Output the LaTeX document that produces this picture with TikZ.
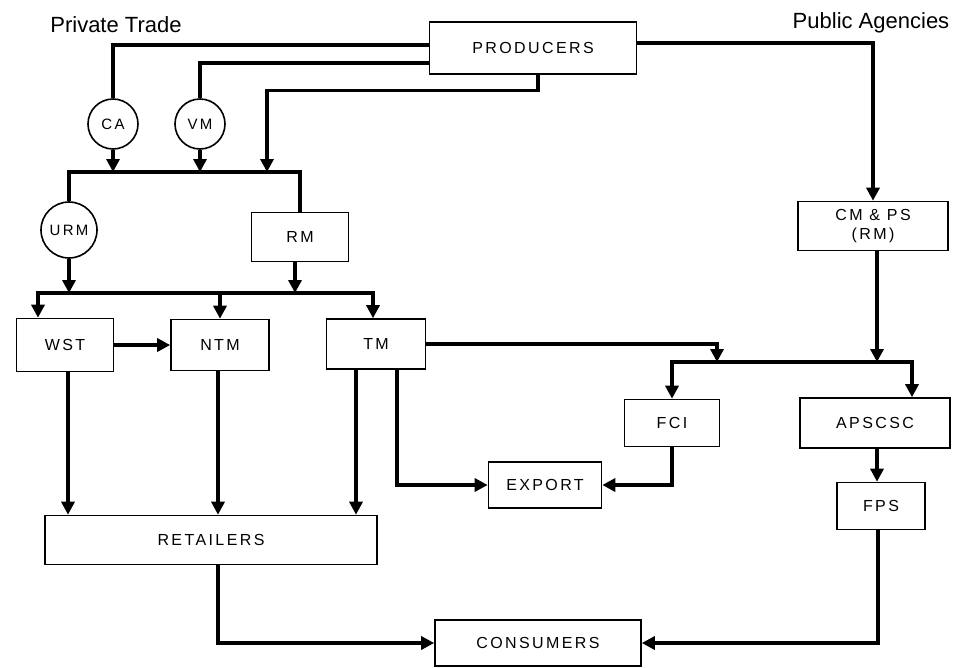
\documentclass[tikz,border=0pt]{standalone}
\usepackage{fontspec}
\setmainfont{Liberation Sans}
\newfontfamily\boxfont[LetterSpace=15]{Liberation Sans}
\usetikzlibrary{arrows.meta}

\begin{document}
\begin{tikzpicture}[x=1pt,y=-1pt,
  caixa/.style={draw,line width=1.6pt,font=\boxfont\fontsize{16}{19}\selectfont,inner sep=0pt,align=center},
  circulo/.style={draw,circle,line width=1.6pt,font=\boxfont\fontsize{15}{18}\selectfont,inner sep=0pt,minimum size=50pt},
  linha/.style={line width=3.3pt},
  fluxo/.style={linha,-{Triangle[length=13pt,width=13pt]}},
  titulo/.style={font=\fontsize{22}{26}\selectfont}]
\useasboundingbox (0,0) rectangle (957,667);
% Titulos
\node[titulo] (priv) at (116,25) {Private Trade};
\node[titulo] (pub) at (871,23) {Public Agencies};
% Caixas
\node[caixa,minimum width=207pt,minimum height=52pt] (prod) at (533,48) {PRODUCERS};
\node[circulo] (ca) at (113,124) {CA};
\node[circulo] (vm) at (200,124) {VM};
\node[circulo,minimum size=56pt] (urm) at (69,230) {URM};
\node[caixa,minimum width=97pt,minimum height=49pt] (rm) at (300,237) {RM};
\node[caixa,minimum width=97pt,minimum height=53pt] (wst) at (65,345) {WST};
\node[caixa,minimum width=98pt,minimum height=51pt] (ntm) at (220,345) {NTM};
\node[caixa,minimum width=99pt,minimum height=50pt] (tm) at (376,344) {TM};
\node[caixa,minimum width=332pt,minimum height=49pt] (ret) at (211,540) {RETAILERS};
\node[caixa,minimum width=113pt,minimum height=46pt] (exp) at (545,485) {EXPORT};
\node[caixa,minimum width=95pt,minimum height=47pt] (fci) at (672,423) {FCI};
\node[caixa,minimum width=150pt,minimum height=49pt] (cmps) at (873,226) {CM \& PS\\(RM)};
\node[caixa,minimum width=150pt,minimum height=50pt] (aps) at (875,423) {APSCSC};
\node[caixa,minimum width=88pt,minimum height=47pt] (fps) at (881,506) {FPS};
\node[caixa,minimum width=206pt,minimum height=46pt] (cons) at (538,643) {CONSUMERS};
% Barramentos
\coordinate (busA) at (182,172);
\coordinate (busC) at (267,172);
\coordinate (busB) at (205,293);
\coordinate (busD) at (717,362);
% Comercio privado
\draw[linha] ([yshift=3pt]prod.west) -| (ca.north);
\draw[linha] ([yshift=-15pt]prod.west) -| (vm.north);
\draw[fluxo] ([xshift=5pt]prod.south) -- ++(0,16) -| (busC);
\draw[fluxo] (ca.south) -- (ca.south |- busA);
\draw[fluxo] (vm.south) -- (vm.south |- busA);
\draw[linha] (urm.north) |- (busA) -| (rm.north);
\draw[fluxo] (urm.south) -- (urm.south |- busB);
\draw[fluxo] ([xshift=-5pt]rm.south) -- ([xshift=-5pt]rm.south |- busB);
\draw[fluxo] (busB) -| ([xshift=-27pt]wst.north);
\draw[fluxo] (busB) -| (ntm.north);
\draw[fluxo] (busB) -| ([xshift=-3pt]tm.north);
\draw[fluxo] (wst) -- (ntm);
\draw[fluxo] ([xshift=3pt]wst.south) -- ([xshift=3pt]wst.south |- ret.north);
\draw[fluxo] ([xshift=-2pt]ntm.south) -- ([xshift=-2pt]ntm.south |- ret.north);
\draw[fluxo] ([xshift=-20pt]tm.south) -- ([xshift=-20pt]tm.south |- ret.north);
\draw[fluxo] ([xshift=21pt]tm.south) |- (exp.west);
\draw[fluxo] ([xshift=7pt]ret.south) |- (cons.west);
% Agencias publicas
\draw[fluxo] ([yshift=5pt]prod.east) -| (cmps.north);
\draw[fluxo] (tm.east) -| (busD);
\draw[fluxo] ([xshift=4pt]cmps.south) -- ([xshift=4pt]cmps.south |- busD);
\draw[fluxo] (busD) -| (fci.north);
\draw[fluxo] (busD) -| ([xshift=37pt]aps.north);
\draw[fluxo] (fci.south) |- (exp.east);
\draw[fluxo] ([xshift=2pt]aps.south) -- ([xshift=2pt]aps.south |- fps.north);
\draw[fluxo] ([xshift=-3pt]fps.south) |- (cons.east);
\end{tikzpicture}
\end{document}
